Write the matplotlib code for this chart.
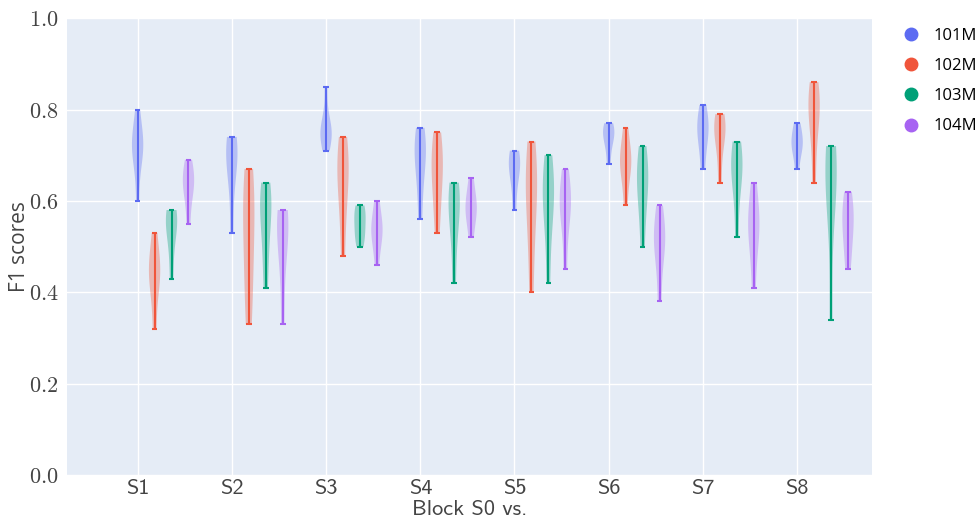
import numpy as np
import matplotlib
matplotlib.use("Agg")
import matplotlib.pyplot as plt
from matplotlib.lines import Line2D

plt.rcParams['mathtext.fontset'] = 'cm'

blocks = ["S1", "S2", "S3", "S4", "S5", "S6", "S7", "S8"]
series = ["101M", "102M", "103M", "104M"]
colors = ["#5C6BF2", "#F0553B", "#00A077", "#A763F2"]

# F1 scores per block, one list of runs per block
f1_101m = [
    [0.60, 0.68, 0.71, 0.72, 0.73, 0.75, 0.80],
    [0.53, 0.64, 0.69, 0.71, 0.72, 0.74],
    [0.71, 0.73, 0.745, 0.75, 0.76, 0.78, 0.85],
    [0.56, 0.64, 0.69, 0.71, 0.73, 0.76],
    [0.58, 0.64, 0.67, 0.68, 0.70, 0.71],
    [0.68, 0.72, 0.74, 0.75, 0.76, 0.77],
    [0.67, 0.72, 0.75, 0.76, 0.78, 0.81],
    [0.67, 0.71, 0.72, 0.73, 0.75, 0.77],
]
f1_102m = [
    [0.32, 0.41, 0.44, 0.45, 0.47, 0.53],
    [0.33, 0.42, 0.50, 0.57, 0.62, 0.67],
    [0.48, 0.58, 0.64, 0.67, 0.70, 0.74],
    [0.53, 0.60, 0.65, 0.68, 0.71, 0.75],
    [0.40, 0.52, 0.60, 0.64, 0.67, 0.73],
    [0.59, 0.66, 0.68, 0.69, 0.71, 0.76],
    [0.64, 0.71, 0.75, 0.76, 0.77, 0.79],
    [0.64, 0.74, 0.79, 0.81, 0.83, 0.86],
]
f1_103m = [
    [0.43, 0.50, 0.54, 0.56, 0.57, 0.58],
    [0.41, 0.49, 0.56, 0.59, 0.61, 0.64],
    [0.50, 0.52, 0.54, 0.56, 0.58, 0.59],
    [0.42, 0.52, 0.57, 0.60, 0.62, 0.64],
    [0.42, 0.54, 0.60, 0.62, 0.65, 0.70],
    [0.50, 0.58, 0.63, 0.65, 0.68, 0.72],
    [0.52, 0.62, 0.66, 0.68, 0.70, 0.73],
    [0.34, 0.58, 0.65, 0.67, 0.69, 0.72],
]
f1_104m = [
    [0.55, 0.61, 0.63, 0.65, 0.66, 0.69],
    [0.33, 0.46, 0.52, 0.55, 0.57, 0.58],
    [0.46, 0.51, 0.53, 0.54, 0.56, 0.60],
    [0.52, 0.56, 0.58, 0.59, 0.61, 0.65],
    [0.45, 0.55, 0.59, 0.60, 0.62, 0.67],
    [0.38, 0.47, 0.51, 0.52, 0.54, 0.59],
    [0.41, 0.50, 0.54, 0.55, 0.58, 0.64],
    [0.45, 0.50, 0.54, 0.56, 0.59, 0.62],
]
all_data = [f1_101m, f1_102m, f1_103m, f1_104m]

fig = plt.figure(figsize=(9.76, 5.19), dpi=100)
ax = fig.add_axes([0.0686, 0.0848, 0.8244, 0.8802])
ax.set_facecolor("#E5ECF6")

offset = 0.18
base = np.arange(len(blocks))
for i, (data, c) in enumerate(zip(all_data, colors)):
    parts = ax.violinplot(data, positions=base + i * offset, widths=0.12,
                          showextrema=True, points=200)
    for b in parts['bodies']:
        b.set_facecolor(c)
        b.set_edgecolor('none')
        b.set_alpha(0.35)
    for k in ('cbars', 'cmins', 'cmaxes'):
        parts[k].set_color(c)
        parts[k].set_linewidth(1.5)

ax.set_xlim(-0.75, 7.79)
ax.set_ylim(0, 1.0)
ax.set_xticks(base)
ax.set_xticklabels(blocks, fontsize=16, family='cmss10', color='#444444')
yt = [0.0, 0.2, 0.4, 0.6, 0.8, 1.0]
ax.set_yticks(yt)
ax.set_yticklabels([r'$%.1f$' % v for v in yt], fontsize=16, color='#444444')
ax.tick_params(axis='y', length=0, pad=6)
ax.tick_params(axis='x', length=0, pad=3)
ax.grid(True, color='white', linewidth=1)
ax.set_axisbelow(True)
for s in ax.spines.values():
    s.set_visible(False)

ax.set_ylabel("F1 scores", fontsize=15, color='#444444', family='Open Sans', labelpad=-1)
ax.set_xlabel("Block S0 vs.", fontsize=16, family='cmss10', color='#444444', labelpad=1)

handles = [Line2D([], [], marker='o', linestyle='none', markersize=9, color=c)
           for c in colors]
fig.legend(handles, series, loc='upper left', bbox_to_anchor=(0.91, 0.975),
           frameon=False, prop={'family': 'Open Sans', 'size': 12},
           handletextpad=0.8, labelspacing=0.85, handlelength=1.0)

fig.savefig("out.png", dpi=100)
